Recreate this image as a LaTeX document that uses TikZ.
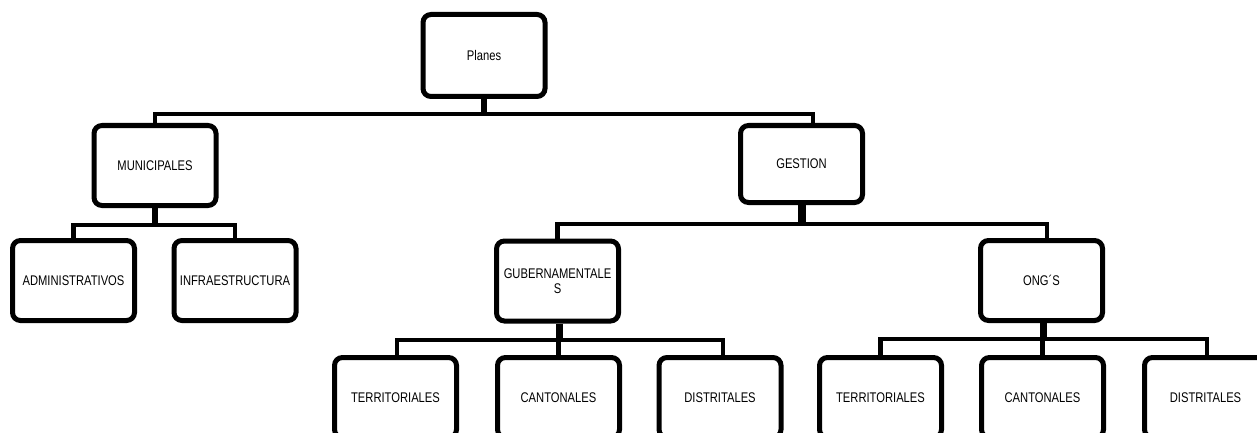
\documentclass[tikz,border=0pt]{standalone}
\usepackage{fontspec}
\setmainfont{Liberation Sans}[FakeStretch=0.8]
\begin{document}
\begin{tikzpicture}[
    x=1pt, y=-1pt,
    plan box/.style={draw, line width=5pt, rounded corners=8pt, inner sep=0pt,
      minimum width=122pt, minimum height=80pt, align=center,
      font=\fontsize{14}{15}\selectfont},
    link/.style={draw, line width=4.5pt},
    stem/.style={draw, line width=6.5pt},
    ]
\useasboundingbox (0,0) rectangle (1257,433);
\clip (0,0) rectangle (1257,433);
% niveles
\node[plan box, minimum height=82pt] (planes) at (484,55.5) {Planes};
\node[plan box] (muni) at (155,165.5) {MUNICIPALES};
\node[plan box, minimum height=77pt] (gestion) at (801.5,164) {GESTION};
\node[plan box] (admin) at (73.5,280.5) {ADMINISTRATIVOS};
\node[plan box] (infra) at (235,280.5) {INFRAESTRUCTURA};
\node[plan box] (gub) at (557.5,281) {GUBERNAMENTALE\\S};
\node[plan box] (ong) at (1041.5,280.5) {ONG´S};
\node[plan box] (terr1) at (395.5,397.5) {TERRITORIALES};
\node[plan box] (cant1) at (558.5,397.5) {CANTONALES};
\node[plan box] (dist1) at (720,397.5) {DISTRITALES};
\node[plan box] (terr2) at (880.5,397.5) {TERRITORIALES};
\node[plan box] (cant2) at (1042.5,397.5) {CANTONALES};
\node[plan box] (dist2) at (1205.5,397.5) {DISTRITALES};
% barras
\coordinate (bus1) at (0,114);
\coordinate (bus2) at (0,225);
\coordinate (bus3) at (0,224);
\coordinate (bus4) at (0,340);
\coordinate (bus5) at (0,339);
\draw[stem] (planes.south) -- (planes.south |- bus1);
\draw[link] (muni.north) |- (planes.south |- bus1) -| ([xshift=11.5pt]gestion.north);
\draw[stem] (muni.south) -- (muni.south |- bus2);
\draw[link] (admin.north) |- (muni.south |- bus2) -| (infra.north);
\draw[stem, line width=8pt] (gestion.south) -- (gestion.south |- bus3);
\draw[link] (gub.north) |- (gestion.south |- bus3) -| ([xshift=5.5pt]ong.north);
\draw[stem] ([xshift=2pt]gub.south) -- ([xshift=2pt]gub.south |- bus4);
\draw[link] ([xshift=1.5pt]terr1.north) |- (gub.south |- bus4) -| ([xshift=3pt]dist1.north);
\draw[link] (cant1.north) -- (cant1.north |- bus4);
\draw[stem] ([xshift=2pt]ong.south) -- ([xshift=2pt]ong.south |- bus5);
\draw[link] (terr2.north) |- (ong.south |- bus5) -| ([xshift=1.5pt]dist2.north);
\draw[link] (cant2.north) -- (cant2.north |- bus5);
\end{tikzpicture}
\end{document}
